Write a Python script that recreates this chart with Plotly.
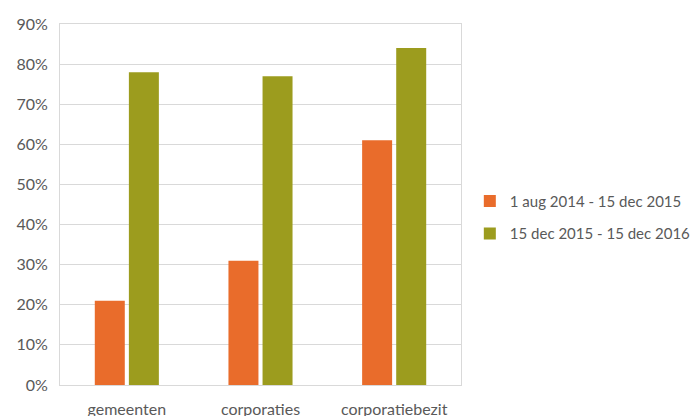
import plotly.graph_objects as go

categories = ["gemeenten", "corporaties", "corporatiebezit"]
series1_name = "1 aug 2014 - 15 dec 2015"
series1_values = [0.21, 0.31, 0.61]
series2_name = "15 dec 2015 - 15 dec 2016"
series2_values = [0.78, 0.77, 0.84]
y_ticks = [0, 0.1, 0.2, 0.3, 0.4, 0.5, 0.6, 0.7, 0.8, 0.9]

FONT = "Source Sans Pro, Lato, Open Sans, sans-serif"
TEXT = "#595959"

fig = go.Figure()
fig.add_trace(go.Bar(x=categories, y=series1_values, name=series1_name,
                     marker=dict(color="#E96C2B", line=dict(width=0)), legendgroup="a"))
fig.add_trace(go.Bar(x=categories, y=series2_values, name=series2_name,
                     marker=dict(color="#9C9C1E", line=dict(width=0)), legendgroup="b"))

fig.update_layout(
    width=699, height=416,
    margin=dict(l=60, r=238, t=24, b=31, autoexpand=False),
    paper_bgcolor="white", plot_bgcolor="white",
    barmode="group", bargap=0.49, bargroupgap=0.12,
    font=dict(family=FONT, size=16, color=TEXT),
    legend=dict(x=1.022, xanchor="left", y=0.465, yanchor="middle",
                tracegroupgap=10, itemwidth=30,
                font=dict(family=FONT, size=15, color=TEXT)),
    xaxis=dict(showline=True, linecolor="#D9D9D9", linewidth=1, mirror=True,
               ticks="", ticklabelstandoff=10, tickfont=dict(size=16, color=TEXT)),
    yaxis=dict(range=[0, 0.9], tickvals=y_ticks, tickformat=".0%",
               showgrid=True, gridcolor="#D9D9D9", gridwidth=1,
               showline=True, linecolor="#D9D9D9", linewidth=1, mirror=True,
               zeroline=False, ticks="", ticklabelstandoff=8,
               tickfont=dict(size=16, color=TEXT)),
)

fig.write_html("out.html",
               config={"displayModeBar": False},
               post_script="document.body.style.margin='0';document.body.style.overflow='hidden';")
